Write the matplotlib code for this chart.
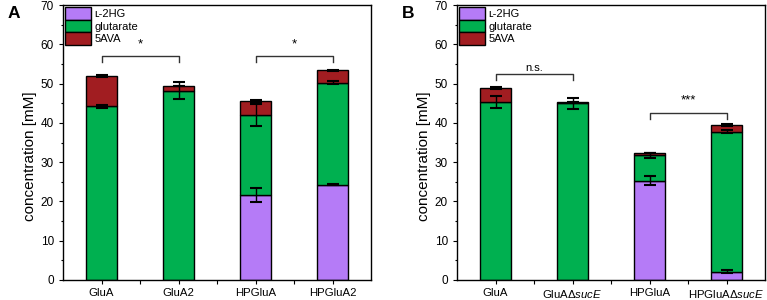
import matplotlib
matplotlib.use("Agg")
import matplotlib.pyplot as plt
from matplotlib.patches import Patch
import numpy as np

plt.rcParams['font.family'] = ['Liberation Sans', 'DejaVu Sans']
plt.rcParams['mathtext.fontset'] = 'custom'
plt.rcParams['mathtext.rm'] = 'Liberation Sans'
plt.rcParams['mathtext.it'] = 'Liberation Sans:italic'

# ---- data ----
series = ['ʟ-2HG', 'glutarate', '5AVA']

cats_A = ['GluA', 'GluA2', 'HPGluA', 'HPGluA2']
l2hg_A = [0.0, 0.0, 21.6, 24.3]
l2hg_err_A = [0.0, 0.0, 1.7, 0.2]
glut_A = [44.2, 48.2, 20.4, 25.95]
glut_err_A = [0.4, 2.2, 2.8, 0.4]
ava_A = [7.7, 1.3, 3.6, 3.15]
ava_err_A = [0.2, 0.0, 0.3, 0.1]

cats_B = ['GluA', r'GluAΔ$\mathit{sucE}$', 'HPGluA', r'HPGluAΔ$\mathit{sucE}$']
l2hg_B = [0.0, 0.0, 25.3, 2.1]
l2hg_err_B = [0.0, 0.0, 1.1, 0.4]
glut_B = [45.3, 45.0, 6.4, 35.7]
glut_err_B = [1.5, 1.4, 0.6, 0.3]
ava_B = [3.6, 0.4, 0.6, 1.6]
ava_err_B = [0.2, 0.0, 0.0, 0.2]

sig_A = [(1, 2, 57.0, '*'), (3, 4, 57.0, '*')]
sig_B = [(1, 2, 52.5, 'n.s.'), (3, 4, 42.6, '***')]

colors = ['#b57bf7', '#00b050', '#a11d21']

fig = plt.figure(figsize=(7.67, 3.0), dpi=100)
axA = fig.add_axes([63/767, 1-280/300, 308/767, 275/300])
axB = fig.add_axes([457/767, 1-280/300, 308/767, 275/300])


def panel(ax, cats, l2, l2e, gl, gle, av, ave, sigs, label):
    x = np.arange(1, len(cats)+1)
    w = 0.4
    b0 = np.zeros(len(cats))
    vals = [l2, gl, av]
    errs = [l2e, gle, ave]
    for v, e, c, name in zip(vals, errs, colors, series):
        v = np.array(v)
        ax.bar(x, v, w, bottom=b0, color=c, edgecolor='black', linewidth=1.0,
               label=name, zorder=2)
        top = b0 + v
        mask = v > 0
        ax.errorbar(x[mask], top[mask], yerr=np.array(e)[mask], fmt='none',
                    ecolor='black', elinewidth=1.0, capsize=4.5, capthick=1.5,
                    zorder=3)
        b0 = top
    for x1, x2, y, t in sigs:
        ax.plot([x1, x1, x2, x2], [y-1.5, y, y, y-1.5], color='#333333', lw=1.0,
                zorder=3)
        if t == 'n.s.':
            ax.text((x1+x2)/2, y+0.2, t, ha='center', va='bottom', fontsize=8)
        else:
            ax.text((x1+x2)/2, y+1.5, t, ha='center', va='bottom', fontsize=9.5)
    ax.set_xlim(0.5, 4.5)
    ax.set_ylim(0, 70)
    ax.set_xticks(x)
    ax.set_xticklabels(cats, fontsize=8.2)
    ax.set_xticks([1.5, 2.5, 3.5], minor=True)
    ax.set_yticks(np.arange(0, 71, 10))
    ax.set_yticks(np.arange(5, 70, 10), minor=True)
    ax.tick_params(axis='both', which='major', direction='out', length=3,
                   width=0.8, labelsize=8.5)
    ax.tick_params(axis='x', which='minor', direction='out', length=3, width=0.8)
    ax.tick_params(axis='y', which='minor', direction='out', length=1.8, width=0.8)
    ax.tick_params(axis='x', labelsize=8.2, pad=3)
    for s in ax.spines.values():
        s.set_linewidth(1.0)
    ax.set_ylabel('concentration [mM]', fontsize=11)
    ax.yaxis.set_label_coords(-0.085, 0.45)
    handles = [Patch(facecolor=c, edgecolor='black', linewidth=1.0) for c in colors]
    ax.legend(handles, series, loc='upper left', frameon=False, fontsize=8,
              handlelength=2.3, handleheight=1.35, labelspacing=0.0,
              handletextpad=0.3, borderaxespad=0.1, borderpad=0.1)
    fig.text(ax.get_position().x0 - 55/767, 0.955, label, fontsize=12.5,
             fontweight='bold', ha='left', va='center')


panel(axA, cats_A, l2hg_A, l2hg_err_A, glut_A, glut_err_A, ava_A, ava_err_A,
      sig_A, 'A')
panel(axB, cats_B, l2hg_B, l2hg_err_B, glut_B, glut_err_B, ava_B, ava_err_B,
      sig_B, 'B')

fig.savefig('out.png', dpi=100)
